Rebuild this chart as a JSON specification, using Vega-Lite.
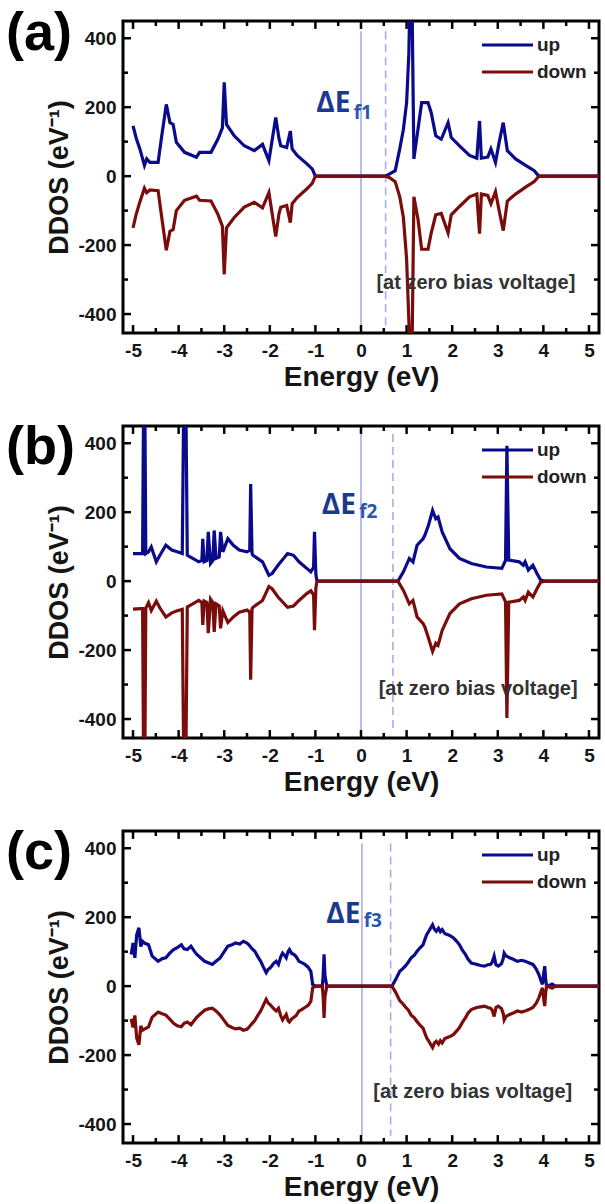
{
"$schema": "https://vega.github.io/schema/vega-lite/v6.json",
"background": "white",
"padding": {"left": 4, "top": 5, "right": 5, "bottom": 0},
"spacing": 26,
"config": {
  "view": {"stroke": "black", "strokeWidth": 3},
  "axis": {"domain": false, "grid": false, "ticks": false, "labelFont": "Liberation Sans", "labelFontSize": 19, "labelFontWeight": "bold", "labelColor": "#151515", "titleFont": "Liberation Sans", "titleFontWeight": "bold", "titleColor": "#151515", "labelFlush": false, "labelOverlap": false},
  "legend": {"orient": "top-right", "symbolType": "M-4.2,0H0.9", "symbolSize": 400, "symbolStrokeWidth": 3.2, "labelFont": "Liberation Sans", "labelFontSize": 19, "labelFontWeight": "bold", "labelColor": "#222", "offset": 12, "padding": 0, "rowPadding": 5, "labelOffset": 1},
  "title": {"anchor": "start", "frame": "bounds", "font": "Liberation Sans", "fontSize": 54, "fontWeight": "bold", "color": "black", "offset": 0, "dx": -40, "dy": 45}
},
"datasets": {
  "xt": [{"e":-5},{"e":-4.5},{"e":-4},{"e":-3.5},{"e":-3},{"e":-2.5},{"e":-2},{"e":-1.5},{"e":-1},{"e":-0.5},{"e":0},{"e":0.5},{"e":1},{"e":1.5},{"e":2},{"e":2.5},{"e":3},{"e":3.5},{"e":4},{"e":4.5},{"e":5}],
  "yt": [{"v":-400},{"v":-300},{"v":-200},{"v":-100},{"v":0},{"v":100},{"v":200},{"v":300},{"v":400}],
  "a": [
{"e":-5.0,"up":146,"down":-150},{"e":-4.93,"up":110,"down":-110},{"e":-4.85,"up":79,"down":-75},{"e":-4.75,"up":31,"down":-35},{"e":-4.70,"up":50,"down":-48},{"e":-4.63,"up":40,"down":-40},{"e":-4.45,"up":40,"down":-42},{"e":-4.37,"up":117,"down":-120},{"e":-4.27,"up":208,"down":-215},{"e":-4.19,"up":155,"down":-160},{"e":-4.12,"up":150,"down":-155},{"e":-4.05,"up":98,"down":-100},{"e":-3.87,"up":69,"down":-70},{"e":-3.61,"up":55,"down":-58},{"e":-3.54,"up":69,"down":-70},{"e":-3.29,"up":69,"down":-72},{"e":-3.14,"up":107,"down":-110},{"e":-3.04,"up":140,"down":-145},{"e":-3.0,"up":272,"down":-285},{"e":-2.95,"up":150,"down":-150},{"e":-2.78,"up":117,"down":-120},{"e":-2.56,"up":88,"down":-90},{"e":-2.34,"up":74,"down":-76},{"e":-2.16,"up":92,"down":-92},{"e":-2.02,"up":45,"down":-48},{"e":-1.87,"up":170,"down":-175},{"e":-1.80,"up":110,"down":-110},{"e":-1.76,"up":88,"down":-90},{"e":-1.63,"up":83,"down":-85},{"e":-1.55,"up":131,"down":-135},{"e":-1.51,"up":79,"down":-80},{"e":-1.40,"up":60,"down":-62},{"e":-1.18,"up":35,"down":-36},{"e":-1.07,"up":21,"down":-21},{"e":-1.0,"up":0,"down":0},{"e":0.53,"up":0,"down":0},{"e":0.62,"up":6,"down":-4},{"e":0.75,"up":16,"down":-16},{"e":0.85,"up":79,"down":-60},{"e":0.93,"up":136,"down":-120},{"e":1.0,"up":213,"down":-240},{"e":1.05,"up":357,"down":-420},{"e":1.07,"up":500,"down":-500},{"e":1.12,"up":500,"down":-500},{"e":1.16,"up":50,"down":-60},{"e":1.25,"up":136,"down":-125},{"e":1.33,"up":213,"down":-212},{"e":1.47,"up":213,"down":-212},{"e":1.54,"up":184,"down":-165},{"e":1.64,"up":117,"down":-112},{"e":1.76,"up":107,"down":-108},{"e":1.91,"up":155,"down":-165},{"e":1.98,"up":112,"down":-112},{"e":2.16,"up":88,"down":-88},{"e":2.38,"up":60,"down":-60},{"e":2.54,"up":52,"down":-52},{"e":2.60,"up":160,"down":-167},{"e":2.64,"up":52,"down":-52},{"e":2.78,"up":55,"down":-56},{"e":2.85,"up":79,"down":-80},{"e":2.95,"up":40,"down":-45},{"e":3.03,"up":98,"down":-100},{"e":3.12,"up":155,"down":-158},{"e":3.21,"up":74,"down":-72},{"e":3.39,"up":50,"down":-52},{"e":3.61,"up":31,"down":-32},{"e":3.80,"up":16,"down":-16},{"e":3.90,"up":0,"down":0},{"e":5.22,"up":0,"down":0}
  ],
  "b": [
{"e":-5.0,"up":80,"down":-81},{"e":-4.83,"up":80,"down":-80},{"e":-4.79,"up":80,"down":-80},{"e":-4.77,"up":500,"down":-500},{"e":-4.74,"up":500,"down":-500},{"e":-4.72,"up":80,"down":-78},{"e":-4.66,"up":85,"down":-62},{"e":-4.60,"up":99,"down":-85},{"e":-4.49,"up":56,"down":-58},{"e":-4.41,"up":75,"down":-78},{"e":-4.28,"up":104,"down":-104},{"e":-4.15,"up":90,"down":-92},{"e":-4.03,"up":85,"down":-86},{"e":-3.92,"up":80,"down":-82},{"e":-3.89,"up":500,"down":-500},{"e":-3.84,"up":500,"down":-500},{"e":-3.81,"up":75,"down":-75},{"e":-3.69,"up":66,"down":-66},{"e":-3.56,"up":56,"down":-56},{"e":-3.49,"up":60,"down":-62},{"e":-3.47,"up":123,"down":-127},{"e":-3.44,"up":56,"down":-58},{"e":-3.38,"up":60,"down":-62},{"e":-3.35,"up":143,"down":-151},{"e":-3.30,"up":51,"down":-52},{"e":-3.25,"up":60,"down":-62},{"e":-3.22,"up":147,"down":-147},{"e":-3.18,"up":66,"down":-66},{"e":-3.11,"up":70,"down":-72},{"e":-3.08,"up":143,"down":-137},{"e":-3.03,"up":85,"down":-86},{"e":-2.92,"up":123,"down":-120},{"e":-2.80,"up":104,"down":-104},{"e":-2.67,"up":90,"down":-90},{"e":-2.50,"up":85,"down":-84},{"e":-2.44,"up":90,"down":-90},{"e":-2.42,"up":282,"down":-286},{"e":-2.39,"up":80,"down":-80},{"e":-2.37,"up":75,"down":-76},{"e":-2.16,"up":56,"down":-56},{"e":-2.02,"up":17,"down":-16},{"e":-1.95,"up":22,"down":-22},{"e":-1.82,"up":46,"down":-46},{"e":-1.61,"up":80,"down":-76},{"e":-1.48,"up":75,"down":-72},{"e":-1.36,"up":56,"down":-56},{"e":-1.19,"up":37,"down":-36},{"e":-1.10,"up":27,"down":-28},{"e":-1.04,"up":40,"down":-40},{"e":-1.02,"up":143,"down":-142},{"e":-0.99,"up":20,"down":-20},{"e":-0.97,"up":3,"down":-3},{"e":-0.93,"up":0,"down":0},{"e":0.81,"up":0,"down":0},{"e":0.93,"up":27,"down":-27},{"e":1.06,"up":66,"down":-66},{"e":1.14,"up":56,"down":-56},{"e":1.23,"up":104,"down":-104},{"e":1.36,"up":123,"down":-123},{"e":1.40,"up":133,"down":-133},{"e":1.48,"up":162,"down":-165},{"e":1.57,"up":205,"down":-204},{"e":1.64,"up":181,"down":-180},{"e":1.69,"up":186,"down":-186},{"e":1.78,"up":143,"down":-143},{"e":1.95,"up":94,"down":-94},{"e":2.16,"up":66,"down":-66},{"e":2.42,"up":51,"down":-51},{"e":2.75,"up":41,"down":-41},{"e":3.09,"up":37,"down":-37},{"e":3.17,"up":60,"down":-60},{"e":3.20,"up":393,"down":-397},{"e":3.24,"up":61,"down":-61},{"e":3.47,"up":56,"down":-56},{"e":3.56,"up":46,"down":-46},{"e":3.60,"up":56,"down":-56},{"e":3.67,"up":32,"down":-32},{"e":3.77,"up":46,"down":-46},{"e":3.86,"up":22,"down":-22},{"e":3.94,"up":3,"down":-3},{"e":4.03,"up":0,"down":0},{"e":5.22,"up":0,"down":0}
  ],
  "c": [
{"e":-5.04,"up":92,"down":-95},{"e":-5.0,"up":125,"down":-120},{"e":-4.96,"up":82,"down":-85},{"e":-4.92,"up":149,"down":-150},{"e":-4.87,"up":169,"down":-170},{"e":-4.83,"up":115,"down":-115},{"e":-4.79,"up":130,"down":-128},{"e":-4.75,"up":125,"down":-125},{"e":-4.66,"up":120,"down":-118},{"e":-4.58,"up":87,"down":-90},{"e":-4.45,"up":72,"down":-75},{"e":-4.36,"up":80,"down":-80},{"e":-4.28,"up":82,"down":-84},{"e":-4.20,"up":95,"down":-95},{"e":-4.11,"up":106,"down":-108},{"e":-4.03,"up":112,"down":-115},{"e":-3.94,"up":120,"down":-118},{"e":-3.88,"up":108,"down":-108},{"e":-3.81,"up":106,"down":-104},{"e":-3.73,"up":116,"down":-112},{"e":-3.65,"up":100,"down":-98},{"e":-3.60,"up":92,"down":-90},{"e":-3.50,"up":80,"down":-78},{"e":-3.43,"up":72,"down":-70},{"e":-3.35,"up":68,"down":-66},{"e":-3.26,"up":63,"down":-64},{"e":-3.18,"up":72,"down":-72},{"e":-3.09,"up":82,"down":-84},{"e":-3.00,"up":100,"down":-100},{"e":-2.92,"up":116,"down":-114},{"e":-2.83,"up":120,"down":-120},{"e":-2.75,"up":125,"down":-124},{"e":-2.66,"up":122,"down":-122},{"e":-2.58,"up":130,"down":-128},{"e":-2.50,"up":125,"down":-125},{"e":-2.46,"up":120,"down":-120},{"e":-2.40,"up":110,"down":-110},{"e":-2.33,"up":101,"down":-100},{"e":-2.26,"up":85,"down":-84},{"e":-2.20,"up":72,"down":-72},{"e":-2.14,"up":55,"down":-55},{"e":-2.08,"up":39,"down":-38},{"e":-2.04,"up":48,"down":-48},{"e":-1.99,"up":53,"down":-54},{"e":-1.95,"up":60,"down":-60},{"e":-1.91,"up":67,"down":-66},{"e":-1.86,"up":72,"down":-72},{"e":-1.81,"up":63,"down":-64},{"e":-1.76,"up":85,"down":-86},{"e":-1.72,"up":96,"down":-98},{"e":-1.68,"up":90,"down":-90},{"e":-1.64,"up":82,"down":-82},{"e":-1.60,"up":100,"down":-100},{"e":-1.57,"up":106,"down":-104},{"e":-1.52,"up":95,"down":-95},{"e":-1.47,"up":92,"down":-90},{"e":-1.42,"up":85,"down":-85},{"e":-1.36,"up":72,"down":-72},{"e":-1.30,"up":68,"down":-68},{"e":-1.23,"up":63,"down":-62},{"e":-1.16,"up":55,"down":-56},{"e":-1.10,"up":43,"down":-44},{"e":-1.06,"up":5,"down":-5},{"e":-0.99,"up":0,"down":0},{"e":-0.85,"up":0,"down":0},{"e":-0.83,"up":30,"down":-30},{"e":-0.81,"up":92,"down":-92},{"e":-0.79,"up":30,"down":-30},{"e":-0.75,"up":0,"down":0},{"e":0.68,"up":0,"down":0},{"e":0.76,"up":19,"down":-18},{"e":0.85,"up":43,"down":-42},{"e":0.91,"up":50,"down":-50},{"e":0.97,"up":58,"down":-60},{"e":1.04,"up":70,"down":-70},{"e":1.10,"up":82,"down":-84},{"e":1.17,"up":90,"down":-92},{"e":1.23,"up":101,"down":-103},{"e":1.30,"up":112,"down":-114},{"e":1.36,"up":120,"down":-122},{"e":1.40,"up":135,"down":-136},{"e":1.44,"up":149,"down":-150},{"e":1.49,"up":160,"down":-160},{"e":1.53,"up":169,"down":-170},{"e":1.57,"up":178,"down":-178},{"e":1.61,"up":165,"down":-165},{"e":1.65,"up":159,"down":-160},{"e":1.70,"up":168,"down":-168},{"e":1.74,"up":158,"down":-158},{"e":1.78,"up":164,"down":-165},{"e":1.84,"up":152,"down":-152},{"e":1.91,"up":149,"down":-148},{"e":1.97,"up":145,"down":-145},{"e":2.03,"up":140,"down":-140},{"e":2.10,"up":130,"down":-130},{"e":2.16,"up":120,"down":-120},{"e":2.22,"up":105,"down":-106},{"e":2.29,"up":92,"down":-92},{"e":2.35,"up":78,"down":-78},{"e":2.42,"up":67,"down":-68},{"e":2.48,"up":65,"down":-65},{"e":2.54,"up":63,"down":-62},{"e":2.62,"up":60,"down":-60},{"e":2.71,"up":58,"down":-58},{"e":2.78,"up":62,"down":-62},{"e":2.84,"up":63,"down":-64},{"e":2.88,"up":70,"down":-70},{"e":2.92,"up":87,"down":-88},{"e":2.96,"up":62,"down":-62},{"e":3.01,"up":58,"down":-58},{"e":3.08,"up":65,"down":-65},{"e":3.12,"up":80,"down":-80},{"e":3.14,"up":96,"down":-98},{"e":3.18,"up":88,"down":-88},{"e":3.26,"up":82,"down":-82},{"e":3.34,"up":78,"down":-78},{"e":3.43,"up":72,"down":-72},{"e":3.52,"up":75,"down":-75},{"e":3.60,"up":72,"down":-72},{"e":3.68,"up":68,"down":-68},{"e":3.77,"up":63,"down":-62},{"e":3.84,"up":50,"down":-50},{"e":3.90,"up":34,"down":-34},{"e":3.95,"up":15,"down":-15},{"e":3.98,"up":5,"down":-5},{"e":4.01,"up":40,"down":-40},{"e":4.03,"up":58,"down":-58},{"e":4.05,"up":20,"down":-20},{"e":4.07,"up":0,"down":0},{"e":4.15,"up":3,"down":-3},{"e":4.19,"up":6,"down":-6},{"e":4.24,"up":2,"down":-2},{"e":4.28,"up":0,"down":0},{"e":5.22,"up":0,"down":0}
  ]
},
"resolve": {"scale": {"color": "independent"}, "legend": {"color": "independent"}},
"vconcat": [
{
  "width": 476, "height": 312,
  "title": {"text": "(a)"},
  "layer": [
    {"data": {"values": [{"e": 0, "y": 420, "y2": -435, "k": "solid"}, {"e": 0.54, "y": 420, "y2": -435, "k": "dashed"}]},
     "mark": {"type": "rule", "color": "#aaaaf0", "strokeWidth": 1.6},
     "encoding": {
       "x": {"field": "e", "type": "quantitative", "scale": {"domain": [-5.22, 5.22], "nice": false, "zero": false},
             "axis": {"orient": "bottom", "values": [-5,-4,-3,-2,-1,0,1,2,3,4,5], "labelExpr": "'' + datum.value", "labelPadding": 8, "title": "Energy (eV)", "titleFontSize": 28, "titlePadding": 3}},
       "y": {"field": "y", "type": "quantitative", "scale": {"domain": [-455, 450], "nice": false, "zero": false},
             "axis": {"orient": "left", "values": [-400,-200,0,200,400], "labelExpr": "'' + datum.value", "labelPadding": 7, "title": "DDOS (eV⁻¹)", "titleFontSize": 27, "titlePadding": 4}},
       "y2": {"field": "y2"},
       "strokeDash": {"field": "k", "type": "nominal", "scale": {"domain": ["solid", "dashed"], "range": [[1, 0], [8, 5]]}, "legend": null}
     }},
    {"data": {"name": "xt"}, "transform": [{"filter": "datum.e % 1 === 0"}], "mark": {"type": "rule", "color": "black", "strokeWidth": 2.5},
     "encoding": {"x": {"field": "e", "type": "quantitative"}, "y": {"datum": 450}, "y2": {"datum": 427}}},
    {"data": {"name": "xt"}, "transform": [{"filter": "datum.e % 1 !== 0"}], "mark": {"type": "rule", "color": "black", "strokeWidth": 2.5},
     "encoding": {"x": {"field": "e", "type": "quantitative"}, "y": {"datum": 450}, "y2": {"datum": 435.5}}},
    {"data": {"name": "xt"}, "transform": [{"filter": "datum.e % 1 === 0"}], "mark": {"type": "rule", "color": "black", "strokeWidth": 2.5},
     "encoding": {"x": {"field": "e", "type": "quantitative"}, "y": {"datum": -455}, "y2": {"datum": -432}}},
    {"data": {"name": "xt"}, "transform": [{"filter": "datum.e % 1 !== 0"}], "mark": {"type": "rule", "color": "black", "strokeWidth": 2.5},
     "encoding": {"x": {"field": "e", "type": "quantitative"}, "y": {"datum": -455}, "y2": {"datum": -440.5}}},
    {"data": {"name": "yt"}, "transform": [{"filter": "datum.v % 200 === 0"}], "mark": {"type": "rule", "color": "black", "strokeWidth": 2.5},
     "encoding": {"y": {"field": "v", "type": "quantitative"}, "x": {"datum": -5.22}, "x2": {"datum": -5.045}}},
    {"data": {"name": "yt"}, "transform": [{"filter": "datum.v % 200 !== 0"}], "mark": {"type": "rule", "color": "black", "strokeWidth": 2.5},
     "encoding": {"y": {"field": "v", "type": "quantitative"}, "x": {"datum": -5.22}, "x2": {"datum": -5.11}}},
    {"data": {"name": "yt"}, "transform": [{"filter": "datum.v % 200 === 0"}], "mark": {"type": "rule", "color": "black", "strokeWidth": 2.5},
     "encoding": {"y": {"field": "v", "type": "quantitative"}, "x": {"datum": 5.22}, "x2": {"datum": 5.045}}},
    {"data": {"name": "yt"}, "transform": [{"filter": "datum.v % 200 !== 0"}], "mark": {"type": "rule", "color": "black", "strokeWidth": 2.5},
     "encoding": {"y": {"field": "v", "type": "quantitative"}, "x": {"datum": 5.22}, "x2": {"datum": 5.11}}},
    {"data": {"name": "a"}, "transform": [{"fold": ["up", "down"], "as": ["s", "v"]}, {"filter": "datum.s === 'up'"}],
     "mark": {"type": "line", "strokeWidth": 3.2, "clip": true},
     "encoding": {
       "x": {"field": "e", "type": "quantitative"},
       "y": {"field": "v", "type": "quantitative"},
       "color": {"field": "s", "type": "nominal", "scale": {"domain": ["up", "down"], "range": ["#0a0a8c", "#7a0c0c"]}, "legend": {"title": null}}
     }},
    {"data": {"name": "a"}, "transform": [{"fold": ["up", "down"], "as": ["s", "v"]}, {"filter": "datum.s === 'down'"}],
     "mark": {"type": "line", "strokeWidth": 3.2, "clip": true},
     "encoding": {
       "x": {"field": "e", "type": "quantitative"},
       "y": {"field": "v", "type": "quantitative"},
       "color": {"field": "s", "type": "nominal", "legend": {"title": null}}
     }},
    {"data": {"values": [{"e": -0.98, "v": 208, "t": "ΔE"}]},
     "mark": {"type": "text", "align": "left", "baseline": "middle", "font": "Open Sans", "fontSize": 28, "fontWeight": "bold", "color": "#1b3a8f"},
     "encoding": {"x": {"field": "e", "type": "quantitative"}, "y": {"field": "v", "type": "quantitative"}, "text": {"field": "t"}}},
    {"data": {"values": [{"e": -0.16, "v": 184, "t": "f1"}]},
     "mark": {"type": "text", "align": "left", "baseline": "middle", "font": "Open Sans", "fontSize": 19, "fontWeight": "bold", "color": "#2c56a8"},
     "encoding": {"x": {"field": "e", "type": "quantitative"}, "y": {"field": "v", "type": "quantitative"}, "text": {"field": "t"}}},
    {"data": {"values": [{"e": 2.52, "v": -311, "t": "[at zero bias voltage]"}]},
     "mark": {"type": "text", "align": "center", "baseline": "middle", "font": "Liberation Sans", "fontSize": 20, "fontWeight": "bold", "color": "#333333"},
     "encoding": {"x": {"field": "e", "type": "quantitative"}, "y": {"field": "v", "type": "quantitative"}, "text": {"field": "t"}}}
  ]
},
{
  "width": 476, "height": 312,
  "title": {"text": "(b)", "dy": 54},
  "layer": [
    {"data": {"values": [{"e": 0, "y": 427, "y2": -436, "k": "solid"}, {"e": 0.70, "y": 427, "y2": -436, "k": "dashed"}]},
     "mark": {"type": "rule", "color": "#aaaaf0", "strokeWidth": 1.6},
     "encoding": {
       "x": {"field": "e", "type": "quantitative", "scale": {"domain": [-5.22, 5.22], "nice": false, "zero": false},
             "axis": {"orient": "bottom", "values": [-5,-4,-3,-2,-1,0,1,2,3,4,5], "labelExpr": "'' + datum.value", "labelPadding": 8, "title": "Energy (eV)", "titleFontSize": 28, "titlePadding": 3}},
       "y": {"field": "y", "type": "quantitative", "scale": {"domain": [-455, 450], "nice": false, "zero": false},
             "axis": {"orient": "left", "values": [-400,-200,0,200,400], "labelExpr": "'' + datum.value", "labelPadding": 7, "title": "DDOS (eV⁻¹)", "titleFontSize": 27, "titlePadding": 4}},
       "y2": {"field": "y2"},
       "strokeDash": {"field": "k", "type": "nominal", "scale": {"domain": ["solid", "dashed"], "range": [[1, 0], [8, 5]]}, "legend": null}
     }},
    {"data": {"name": "xt"}, "transform": [{"filter": "datum.e % 1 === 0"}], "mark": {"type": "rule", "color": "black", "strokeWidth": 2.5},
     "encoding": {"x": {"field": "e", "type": "quantitative"}, "y": {"datum": 450}, "y2": {"datum": 427}}},
    {"data": {"name": "xt"}, "transform": [{"filter": "datum.e % 1 !== 0"}], "mark": {"type": "rule", "color": "black", "strokeWidth": 2.5},
     "encoding": {"x": {"field": "e", "type": "quantitative"}, "y": {"datum": 450}, "y2": {"datum": 435.5}}},
    {"data": {"name": "xt"}, "transform": [{"filter": "datum.e % 1 === 0"}], "mark": {"type": "rule", "color": "black", "strokeWidth": 2.5},
     "encoding": {"x": {"field": "e", "type": "quantitative"}, "y": {"datum": -455}, "y2": {"datum": -432}}},
    {"data": {"name": "xt"}, "transform": [{"filter": "datum.e % 1 !== 0"}], "mark": {"type": "rule", "color": "black", "strokeWidth": 2.5},
     "encoding": {"x": {"field": "e", "type": "quantitative"}, "y": {"datum": -455}, "y2": {"datum": -440.5}}},
    {"data": {"name": "yt"}, "transform": [{"filter": "datum.v % 200 === 0"}], "mark": {"type": "rule", "color": "black", "strokeWidth": 2.5},
     "encoding": {"y": {"field": "v", "type": "quantitative"}, "x": {"datum": -5.22}, "x2": {"datum": -5.045}}},
    {"data": {"name": "yt"}, "transform": [{"filter": "datum.v % 200 !== 0"}], "mark": {"type": "rule", "color": "black", "strokeWidth": 2.5},
     "encoding": {"y": {"field": "v", "type": "quantitative"}, "x": {"datum": -5.22}, "x2": {"datum": -5.11}}},
    {"data": {"name": "yt"}, "transform": [{"filter": "datum.v % 200 === 0"}], "mark": {"type": "rule", "color": "black", "strokeWidth": 2.5},
     "encoding": {"y": {"field": "v", "type": "quantitative"}, "x": {"datum": 5.22}, "x2": {"datum": 5.045}}},
    {"data": {"name": "yt"}, "transform": [{"filter": "datum.v % 200 !== 0"}], "mark": {"type": "rule", "color": "black", "strokeWidth": 2.5},
     "encoding": {"y": {"field": "v", "type": "quantitative"}, "x": {"datum": 5.22}, "x2": {"datum": 5.11}}},
    {"data": {"name": "b"}, "transform": [{"fold": ["up", "down"], "as": ["s", "v"]}, {"filter": "datum.s === 'up'"}],
     "mark": {"type": "line", "strokeWidth": 3.2, "clip": true},
     "encoding": {
       "x": {"field": "e", "type": "quantitative"},
       "y": {"field": "v", "type": "quantitative"},
       "color": {"field": "s", "type": "nominal", "scale": {"domain": ["up", "down"], "range": ["#0a0a8c", "#7a0c0c"]}, "legend": {"title": null}}
     }},
    {"data": {"name": "b"}, "transform": [{"fold": ["up", "down"], "as": ["s", "v"]}, {"filter": "datum.s === 'down'"}],
     "mark": {"type": "line", "strokeWidth": 3.2, "clip": true},
     "encoding": {
       "x": {"field": "e", "type": "quantitative"},
       "y": {"field": "v", "type": "quantitative"},
       "color": {"field": "s", "type": "nominal", "legend": {"title": null}}
     }},
    {"data": {"values": [{"e": -0.86, "v": 217, "t": "ΔE"}]},
     "mark": {"type": "text", "align": "left", "baseline": "middle", "font": "Open Sans", "fontSize": 28, "fontWeight": "bold", "color": "#1b3a8f"},
     "encoding": {"x": {"field": "e", "type": "quantitative"}, "y": {"field": "v", "type": "quantitative"}, "text": {"field": "t"}}},
    {"data": {"values": [{"e": -0.04, "v": 201, "t": "f2"}]},
     "mark": {"type": "text", "align": "left", "baseline": "middle", "font": "Open Sans", "fontSize": 19, "fontWeight": "bold", "color": "#2c56a8"},
     "encoding": {"x": {"field": "e", "type": "quantitative"}, "y": {"field": "v", "type": "quantitative"}, "text": {"field": "t"}}},
    {"data": {"values": [{"e": 2.57, "v": -312, "t": "[at zero bias voltage]"}]},
     "mark": {"type": "text", "align": "center", "baseline": "middle", "font": "Liberation Sans", "fontSize": 20, "fontWeight": "bold", "color": "#333333"},
     "encoding": {"x": {"field": "e", "type": "quantitative"}, "y": {"field": "v", "type": "quantitative"}, "text": {"field": "t"}}}
  ]
},
{
  "width": 476, "height": 312,
  "title": {"text": "(c)", "dy": 54},
  "layer": [
    {"data": {"values": [{"e": 0.02, "y": 414, "y2": -434, "k": "solid"}, {"e": 0.65, "y": 414, "y2": -434, "k": "dashed"}]},
     "mark": {"type": "rule", "color": "#aaaaf0", "strokeWidth": 1.6},
     "encoding": {
       "x": {"field": "e", "type": "quantitative", "scale": {"domain": [-5.22, 5.22], "nice": false, "zero": false},
             "axis": {"orient": "bottom", "values": [-5,-4,-3,-2,-1,0,1,2,3,4,5], "labelExpr": "'' + datum.value", "labelPadding": 8, "title": "Energy (eV)", "titleFontSize": 28, "titlePadding": 3}},
       "y": {"field": "y", "type": "quantitative", "scale": {"domain": [-455, 450], "nice": false, "zero": false},
             "axis": {"orient": "left", "values": [-400,-200,0,200,400], "labelExpr": "'' + datum.value", "labelPadding": 7, "title": "DDOS (eV⁻¹)", "titleFontSize": 27, "titlePadding": 4}},
       "y2": {"field": "y2"},
       "strokeDash": {"field": "k", "type": "nominal", "scale": {"domain": ["solid", "dashed"], "range": [[1, 0], [8, 5]]}, "legend": null}
     }},
    {"data": {"name": "xt"}, "transform": [{"filter": "datum.e % 1 === 0"}], "mark": {"type": "rule", "color": "black", "strokeWidth": 2.5},
     "encoding": {"x": {"field": "e", "type": "quantitative"}, "y": {"datum": 450}, "y2": {"datum": 427}}},
    {"data": {"name": "xt"}, "transform": [{"filter": "datum.e % 1 !== 0"}], "mark": {"type": "rule", "color": "black", "strokeWidth": 2.5},
     "encoding": {"x": {"field": "e", "type": "quantitative"}, "y": {"datum": 450}, "y2": {"datum": 435.5}}},
    {"data": {"name": "xt"}, "transform": [{"filter": "datum.e % 1 === 0"}], "mark": {"type": "rule", "color": "black", "strokeWidth": 2.5},
     "encoding": {"x": {"field": "e", "type": "quantitative"}, "y": {"datum": -455}, "y2": {"datum": -432}}},
    {"data": {"name": "xt"}, "transform": [{"filter": "datum.e % 1 !== 0"}], "mark": {"type": "rule", "color": "black", "strokeWidth": 2.5},
     "encoding": {"x": {"field": "e", "type": "quantitative"}, "y": {"datum": -455}, "y2": {"datum": -440.5}}},
    {"data": {"name": "yt"}, "transform": [{"filter": "datum.v % 200 === 0"}], "mark": {"type": "rule", "color": "black", "strokeWidth": 2.5},
     "encoding": {"y": {"field": "v", "type": "quantitative"}, "x": {"datum": -5.22}, "x2": {"datum": -5.045}}},
    {"data": {"name": "yt"}, "transform": [{"filter": "datum.v % 200 !== 0"}], "mark": {"type": "rule", "color": "black", "strokeWidth": 2.5},
     "encoding": {"y": {"field": "v", "type": "quantitative"}, "x": {"datum": -5.22}, "x2": {"datum": -5.11}}},
    {"data": {"name": "yt"}, "transform": [{"filter": "datum.v % 200 === 0"}], "mark": {"type": "rule", "color": "black", "strokeWidth": 2.5},
     "encoding": {"y": {"field": "v", "type": "quantitative"}, "x": {"datum": 5.22}, "x2": {"datum": 5.045}}},
    {"data": {"name": "yt"}, "transform": [{"filter": "datum.v % 200 !== 0"}], "mark": {"type": "rule", "color": "black", "strokeWidth": 2.5},
     "encoding": {"y": {"field": "v", "type": "quantitative"}, "x": {"datum": 5.22}, "x2": {"datum": 5.11}}},
    {"data": {"name": "c"}, "transform": [{"fold": ["up", "down"], "as": ["s", "v"]}, {"filter": "datum.s === 'up'"}],
     "mark": {"type": "line", "strokeWidth": 3.2, "clip": true},
     "encoding": {
       "x": {"field": "e", "type": "quantitative"},
       "y": {"field": "v", "type": "quantitative"},
       "color": {"field": "s", "type": "nominal", "scale": {"domain": ["up", "down"], "range": ["#0a0a8c", "#7a0c0c"]}, "legend": {"title": null}}
     }},
    {"data": {"name": "c"}, "transform": [{"fold": ["up", "down"], "as": ["s", "v"]}, {"filter": "datum.s === 'down'"}],
     "mark": {"type": "line", "strokeWidth": 3.2, "clip": true},
     "encoding": {
       "x": {"field": "e", "type": "quantitative"},
       "y": {"field": "v", "type": "quantitative"},
       "color": {"field": "s", "type": "nominal", "legend": {"title": null}}
     }},
    {"data": {"values": [{"e": -0.76, "v": 205, "t": "ΔE"}]},
     "mark": {"type": "text", "align": "left", "baseline": "middle", "font": "Open Sans", "fontSize": 28, "fontWeight": "bold", "color": "#1b3a8f"},
     "encoding": {"x": {"field": "e", "type": "quantitative"}, "y": {"field": "v", "type": "quantitative"}, "text": {"field": "t"}}},
    {"data": {"values": [{"e": 0.06, "v": 188, "t": "f3"}]},
     "mark": {"type": "text", "align": "left", "baseline": "middle", "font": "Open Sans", "fontSize": 19, "fontWeight": "bold", "color": "#2c56a8"},
     "encoding": {"x": {"field": "e", "type": "quantitative"}, "y": {"field": "v", "type": "quantitative"}, "text": {"field": "t"}}},
    {"data": {"values": [{"e": 2.45, "v": -306, "t": "[at zero bias voltage]"}]},
     "mark": {"type": "text", "align": "center", "baseline": "middle", "font": "Liberation Sans", "fontSize": 20, "fontWeight": "bold", "color": "#333333"},
     "encoding": {"x": {"field": "e", "type": "quantitative"}, "y": {"field": "v", "type": "quantitative"}, "text": {"field": "t"}}}
  ]
}
]
}
